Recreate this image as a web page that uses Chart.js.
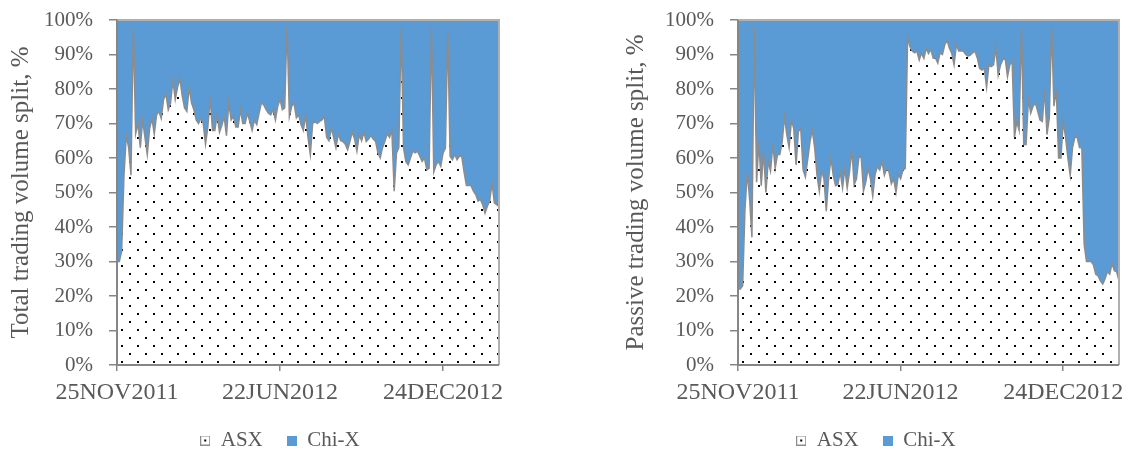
<!DOCTYPE html>
<html>
<head>
<meta charset="utf-8">
<script src="https://cdn.jsdelivr.net/npm/chart.js@4.4.1/dist/chart.umd.min.js"></script>
<style>
  html, body { margin: 0; padding: 0; background: #fff; overflow: hidden; }
  #tela { position: relative; width: 1130px; height: 457px; overflow: hidden; }
  #grafico1 { position: absolute; left: 0; top: 0; }
  #grafico2 { position: absolute; left: 621px; top: 0; }
</style>
</head>
<body>
<div id="tela">
  <canvas id="grafico1" width="560" height="461"></canvas>
  <canvas id="grafico2" width="510" height="461"></canvas>
</div>
<script>
// posicao (indice do dia) onde aparece cada data no eixo x
const indicesRotulo = [0, 70, 140]
const rotulosData = ['25NOV2011', '22JUN2012', '24DEC2012']

// % do volume total negociado na ASX (o resto e Chi-X)
const asxTotal = [
  30, 30, 33, 55, 66.5, 63, 55, 98, 67, 70,
  63, 71, 66, 61, 68.5, 71.5, 67, 72.5, 73.5, 71.5,
  77, 78.5, 74, 76, 82.5, 77, 80.5, 83, 78, 74.5,
  73.5, 80.5, 76, 74, 71, 70, 71.5, 70, 64, 69,
  77.5, 68, 68, 72.5, 67.5, 69.5, 72, 66.5, 76, 71,
  72, 69, 69, 74, 70,
  70, 73, 70.6, 68, 71, 69.7, 73, 76, 75.4, 74,
  73, 72.5, 74, 71, 75, 77, 74, 74.5, 98.5, 72,
  75, 76, 71.6, 72.5, 69.7, 68, 72.5, 66, 61, 70,
  70.6, 70, 70.6, 71, 72, 66, 65, 68.7, 66, 63,
  67, 65, 64.8, 64, 62.4, 64.8, 67.5, 65.5, 62, 66.8,
  65, 67.5, 64.8, 65.5, 66.5, 65.5, 64.8,
  61.5, 60, 63, 64.8, 67, 66, 68, 50.4, 61.5, 63,
  98, 63, 59, 58, 60, 62, 61.5, 62, 60.5, 59,
  60, 56.6, 57, 98, 56, 58, 59, 57.6, 61.5, 62.9,
  97, 60.5, 59.5, 61, 59.5, 60.5, 60.5, 56, 52, 52,
  52, 50.4, 49.4, 47.5, 48, 46.5, 44, 46, 47.5, 52.8,
  47, 46.5, 46
]

// % do volume passivo na ASX
const asxPassivo = [
  22, 22, 23, 45, 56, 48, 37, 98, 53, 64.8,
  52, 62, 50, 59, 56.2, 63.9, 57, 61, 61, 64.5,
  72, 66.8, 63, 71, 68.5, 58, 67.7, 68.7, 56.6, 54.5,
  59.5, 64.8, 68, 63, 55, 50.4, 56.2, 54, 44.6, 54,
  60, 55, 52, 52.3, 56, 51.3, 57, 51.3, 56, 62.5,
  52.3, 54, 60, 60.5, 50.4,
  53, 57, 54, 49, 55.2, 57.5, 56.5, 59, 55, 57,
  56, 52.5, 54, 50, 55.2, 54, 56.5, 57, 95, 92.3,
  91, 90.5, 91, 88.4, 90.4, 88.9, 91.8, 90.3, 91.5, 89,
  89, 87.5, 90.5, 90, 92.8, 94.2, 91.8, 90.3, 87, 92.8,
  91, 91, 91, 90, 89.5, 89.8, 90.5, 91, 89, 86,
  85.5, 86, 80.5, 87, 86.5, 87,
  92, 84, 87, 88.5, 88.9, 83.6, 87, 88, 66, 70.6,
  68, 98, 63.9, 63.9, 77, 73, 75, 76, 73.5, 71,
  70.6, 80, 66.8, 71.6, 98, 75, 80, 60, 60, 70.6,
  66, 60, 55, 63, 66, 66, 63, 62.9, 35, 30,
  30, 30, 29, 26.3, 25.8, 24.4, 23.5, 25, 27, 26.3,
  29.5, 27.3, 27, 24.4
]

const ticksY = [0, 10, 20, 30, 40, 50, 60, 70, 80, 90, 100]

Chart.defaults.font.family = "'Liberation Serif', 'Times New Roman', serif"
Chart.defaults.color = '#595959'

// padrao de pontinhos da area ASX
function criarPontilhado() {
  const c = document.createElement('canvas')
  c.width = 16
  c.height = 16
  const g = c.getContext('2d')
  g.fillStyle = '#ffffff'
  g.fillRect(0, 0, 16, 16)
  g.fillStyle = '#000000'
  g.fillRect(1, 1, 2, 2)
  g.fillRect(9, 9, 2, 2)
  return g.createPattern(c, 'repeat')
}

// quadradinhos da legenda
function criarIcone(cor, comPonto) {
  const c = document.createElement('canvas')
  c.width = 10
  c.height = 10
  const g = c.getContext('2d')
  g.fillStyle = cor
  g.fillRect(0, 0, 10, 10)
  if (comPonto) {
    g.strokeStyle = '#8c8c8c'
    g.lineWidth = 1
    g.strokeRect(0.5, 0.5, 9, 9)
    g.fillStyle = '#000000'
    g.fillRect(4, 4, 2, 2)
  }
  return c
}
const iconeASX = criarIcone('#ffffff', true)
const iconeChix = criarIcone('#5b9bd5', false)

// moldura cinza em volta da area do grafico
const moldura = {
  id: 'moldura',
  afterDatasetsDraw(chart) {
    const a = chart.chartArea
    const c = chart.ctx
    c.save()
    c.lineWidth = 2
    c.strokeStyle = '#b0b0b0'
    c.beginPath()
    c.moveTo(a.left, a.top)
    c.lineTo(a.right, a.top)
    c.lineTo(a.right, a.bottom)
    c.stroke()
    c.strokeStyle = '#868686'
    c.beginPath()
    c.moveTo(a.left, a.top)
    c.lineTo(a.left, a.bottom)
    c.lineTo(a.right, a.bottom)
    c.stroke()
    c.restore()
  }
}

function criarGrafico(id, asx, tituloY, margemDireita, recuoTitulo) {
  const chix = asx.map((v) => 100 - v)
  const dias = asx.map((v, i) => i)
  const ctx = document.getElementById(id).getContext('2d')

  return new Chart(ctx, {
    type: 'line',
    data: {
      labels: dias,
      datasets: [
        {
          label: 'ASX',
          data: asx,
          backgroundColor: criarPontilhado(),
          borderColor: '#8c8c8c',
          borderWidth: 1.5,
          fill: 'origin',
          pointRadius: 0,
          tension: 0
        },
        {
          label: 'Chi-X',
          data: chix,
          backgroundColor: '#5b9bd5',
          borderColor: '#5b9bd5',
          borderWidth: 0,
          fill: '-1',
          pointRadius: 0,
          tension: 0
        }
      ]
    },
    options: {
      responsive: false,
      animation: false,
      devicePixelRatio: 1,
      layout: { padding: { top: 20, right: 0, bottom: 0, left: 0 } },
      scales: {
        x: {
          type: 'category',
          offset: false,
          afterFit: (s) => { s.height = 41 },
          border: { display: false },
          grid: {
            drawOnChartArea: false,
            tickLength: 6,
            lineWidth: 1.5,
            color: (c) => indicesRotulo.includes(c.index) ? '#868686' : 'rgba(0,0,0,0)'
          },
          ticks: {
            autoSkip: false,
            maxRotation: 0,
            minRotation: 0,
            padding: 7,
            font: { size: 24 },
            callback: function (valor, i) {
              const k = indicesRotulo.indexOf(i)
              return k >= 0 ? rotulosData[k] : ''
            }
          }
        },
        y: {
          stacked: true,
          min: 0,
          max: 100,
          afterFit: (s) => {
            s.width = 117
            s.paddingTop = 0
            s.paddingBottom = 0
          },
          afterBuildTicks: (s) => { s.ticks = ticksY.map((v) => ({ value: v })) },
          border: { display: false },
          grid: {
            drawOnChartArea: false,
            tickLength: 8,
            lineWidth: 1.5,
            color: '#868686'
          },
          ticks: {
            padding: 16,
            font: { size: 21 },
            callback: (v) => v + '%'
          },
          title: {
            display: true,
            text: tituloY,
            font: { size: 25 },
            padding: { top: recuoTitulo, bottom: 0 }
          }
        },
        // eixo vazio so para deixar espaco a direita
        direita: {
          type: 'linear',
          position: 'right',
          afterFit: (s) => {
            s.width = margemDireita
            s.paddingTop = 0
            s.paddingBottom = 0
          },
          grid: { display: false },
          border: { display: false },
          ticks: { display: false }
        }
      },
      plugins: {
        legend: {
          position: 'bottom',
          labels: {
            usePointStyle: true,
            boxWidth: 10,
            boxHeight: 10,
            padding: 24,
            font: { size: 21 },
            generateLabels: (chart) => {
              const itens = Chart.defaults.plugins.legend.labels.generateLabels(chart)
              itens[0].pointStyle = iconeASX
              itens[1].pointStyle = iconeChix
              return itens
            }
          }
        },
        tooltip: { enabled: false }
      }
    },
    plugins: [moldura]
  })
}

criarGrafico('grafico1', asxTotal, 'Total trading volume split, %', 61, 6)
criarGrafico('grafico2', asxPassivo, 'Passive trading volume split, %', 12, 0)
</script>
</body>
</html>
